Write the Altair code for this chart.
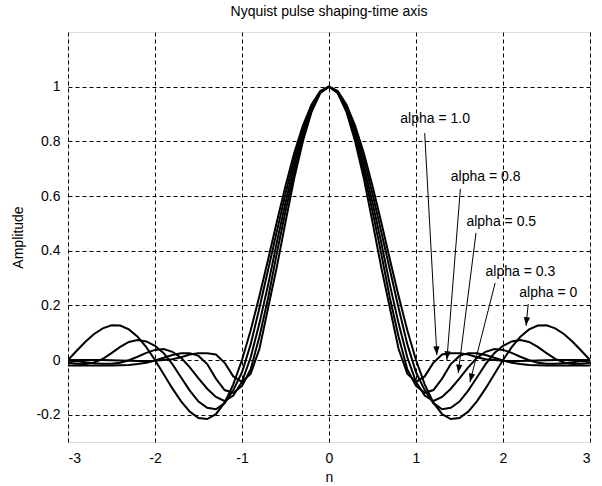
import math
import altair as alt
import pandas as pd

# ---- data ----
n_values = [-3.0, -2.9, -2.8, -2.7, -2.6, -2.5, -2.4, -2.3, -2.2, -2.1,
            -2.0, -1.9, -1.8, -1.7, -1.6, -1.5, -1.4, -1.3, -1.2, -1.1,
            -1.0, -0.9, -0.8, -0.7, -0.6, -0.5, -0.4, -0.3, -0.2, -0.1,
            0.0, 0.1, 0.2, 0.3, 0.4, 0.5, 0.6, 0.7, 0.8, 0.9,
            1.0, 1.1, 1.2, 1.3, 1.4, 1.5, 1.6, 1.7, 1.8, 1.9,
            2.0, 2.1, 2.2, 2.3, 2.4, 2.5, 2.6, 2.7, 2.8, 2.9, 3.0]

amp_alpha_0 = [0.0, 0.034, 0.067, 0.095, 0.116, 0.127, 0.126, 0.112, 0.085, 0.047,
               0.0, -0.052, -0.104, -0.151, -0.189, -0.212, -0.216, -0.198, -0.156, -0.089,
               0.0, 0.109, 0.234, 0.368, 0.505, 0.637, 0.757, 0.858, 0.935, 0.984,
               1.0,
               0.984, 0.935, 0.858, 0.757, 0.637, 0.505, 0.368, 0.234, 0.109,
               0.0, -0.089, -0.156, -0.198, -0.216, -0.212, -0.189, -0.151, -0.104, -0.052,
               0.0, 0.047, 0.085, 0.112, 0.126, 0.127, 0.116, 0.095, 0.067, 0.034, 0.0]

amp_alpha_03 = [-0.010, -0.014, -0.015, -0.009, 0.004, 0.025, 0.048, 0.066, 0.073, 0.068,
                0.052, 0.025, -0.015, -0.064, -0.112, -0.152, -0.175, -0.180, -0.158, -0.110,
                -0.045, 0.058, 0.190, 0.330, 0.470, 0.608, 0.735, 0.845, 0.929, 0.982,
                1.0,
                0.982, 0.929, 0.845, 0.735, 0.608, 0.470, 0.330, 0.190, 0.058,
                -0.045, -0.110, -0.158, -0.180, -0.175, -0.152, -0.112, -0.064, -0.015, 0.025,
                0.052, 0.068, 0.073, 0.066, 0.048, 0.025, 0.004, -0.009, -0.015, -0.014, -0.010]

amp_alpha_05 = [-0.003, -0.005, -0.008, -0.012, -0.014, -0.014, -0.010, -0.001, 0.012, 0.026,
                0.037, 0.040, 0.030, 0.008, -0.027, -0.067, -0.105, -0.135, -0.150, -0.130,
                -0.080, 0.010, 0.134, 0.275, 0.430, 0.576, 0.712, 0.831, 0.922, 0.980,
                1.0,
                0.980, 0.922, 0.831, 0.712, 0.576, 0.430, 0.275, 0.134, 0.010,
                -0.080, -0.130, -0.150, -0.135, -0.105, -0.067, -0.027, 0.008, 0.030, 0.040,
                0.037, 0.026, 0.012, -0.001, -0.010, -0.014, -0.014, -0.012, -0.008, -0.005, -0.003]

amp_alpha_08 = [-0.020, -0.020, -0.020, -0.020, -0.020, -0.020, -0.019, -0.018, -0.015, -0.010,
                -0.002, 0.008, 0.018, 0.025, 0.025, 0.015, -0.015, -0.068, -0.110, -0.120,
                -0.095, -0.034, 0.085, 0.227, 0.390, 0.544, 0.689, 0.816, 0.915, 0.978,
                1.0,
                0.978, 0.915, 0.816, 0.689, 0.544, 0.390, 0.227, 0.085, -0.034,
                -0.095, -0.120, -0.110, -0.068, -0.015, 0.015, 0.025, 0.025, 0.018, 0.008,
                -0.002, -0.010, -0.015, -0.018, -0.019, -0.020, -0.020, -0.020, -0.020, -0.020, -0.020]

amp_alpha_10 = [0.000, 0.000, 0.000, 0.000, 0.000, -0.001, -0.002, -0.003, -0.004, -0.004,
                -0.003, 0.000, 0.003, 0.010, 0.020, 0.025, 0.025, 0.020, -0.010, -0.060,
                -0.080, -0.050, 0.040, 0.190, 0.340, 0.505, 0.665, 0.800, 0.908, 0.977,
                1.0,
                0.977, 0.908, 0.800, 0.665, 0.505, 0.340, 0.190, 0.040, -0.050,
                -0.080, -0.060, -0.010, 0.020, 0.025, 0.025, 0.020, 0.010, 0.003, 0.000,
                -0.003, -0.004, -0.004, -0.003, -0.002, -0.001, 0.000, 0.000, 0.000, 0.000, 0.000]

series_names = ["alpha = 0", "alpha = 0.3", "alpha = 0.5", "alpha = 0.8", "alpha = 1.0"]
series_values = [amp_alpha_0, amp_alpha_03, amp_alpha_05, amp_alpha_08, amp_alpha_10]

# annotations (data coordinates)
label_text = ["alpha = 1.0", "alpha = 0.8", "alpha = 0.5", "alpha = 0.3", "alpha = 0"]
label_x = [1.22, 1.80, 1.98, 2.20, 2.52]
label_y = [0.88, 0.67, 0.505, 0.322, 0.245]
arrow_x_start = [1.10, 1.51, 1.69, 1.91, 2.29]
arrow_y_start = [0.83, 0.626, 0.465, 0.282, 0.205]
arrow_x_tip = [1.24, 1.355, 1.485, 1.62, 2.265]
arrow_y_tip = [0.018, 0.0, -0.048, -0.081, 0.125]

x_ticks = [-3, -2, -1, 0, 1, 2, 3]
y_ticks = [-0.2, 0, 0.2, 0.4, 0.6, 0.8, 1]

# ---- build tables ----
rows = []
for name, vals in zip(series_names, series_values):
    for xv, yv in zip(n_values, vals):
        rows.append({"n": xv, "amp": yv, "series": name})
curves = pd.DataFrame(rows)

W, H = 522, 410
XD, YD = [-3, 3], [-0.3, 1.2]
px_x = W / (XD[1] - XD[0])
px_y = H / (YD[1] - YD[0])

ann = pd.DataFrame({
    "label": label_text, "lx": label_x, "ly": label_y,
    "x0": arrow_x_start, "y0": arrow_y_start,
    "x1": arrow_x_tip, "y1": arrow_y_tip,
})
ann["ang"] = [
    (math.degrees(math.atan2(-(x1 - x0) * px_x, -(y1 - y0) * px_y)) + 360) % 360
    for x0, y0, x1, y1 in zip(ann.x0, ann.y0, ann.x1, ann.y1)
]

FONT = "Liberation Sans"
FS = 14

xscale = alt.Scale(domain=XD, nice=False, zero=False)
yscale = alt.Scale(domain=YD, nice=False, zero=False)

xaxis = alt.Axis(values=x_ticks, title="n", grid=True, gridColor="black", gridDash=[4, 3],
                 gridOpacity=1, gridWidth=1, ticks=False, domain=False,
                 labelFont=FONT, labelFontSize=FS, labelColor="black", labelPadding=9,
                 labelExpr="'' + datum.value",
                 titleFont=FONT, titleFontSize=FS, titleFontWeight="normal",
                 titleColor="black", titlePadding=5)
yaxis = alt.Axis(values=y_ticks, title="Amplitude", grid=True, gridColor="black",
                 gridDash=[4, 3], gridOpacity=1, gridWidth=1, ticks=False, domain=False,
                 labelFont=FONT, labelFontSize=FS, labelColor="black", labelPadding=8,
                 labelExpr="'' + datum.value",
                 titleFont=FONT, titleFontSize=FS, titleFontWeight="normal",
                 titleColor="black", titlePadding=10)

lines = alt.Chart(curves).mark_line(color="black", strokeWidth=2, clip=True).encode(
    x=alt.X("n:Q", scale=xscale, axis=xaxis),
    y=alt.Y("amp:Q", scale=yscale, axis=yaxis),
    detail="series:N",
    order="n:Q",
)

arrows = alt.Chart(ann).mark_rule(color="black", strokeWidth=1).encode(
    x=alt.X("x0:Q", scale=xscale), y=alt.Y("y0:Q", scale=yscale),
    x2="x1:Q", y2="y1:Q",
)

heads = alt.Chart(ann).mark_point(
    shape="M0,0 L-0.36,-1 L0.36,-1 Z", filled=True, color="black", opacity=1,
    size=300, strokeWidth=0,
).encode(
    x=alt.X("x1:Q", scale=xscale), y=alt.Y("y1:Q", scale=yscale),
    angle=alt.Angle("ang:Q", scale=None),
)

labels = alt.Chart(ann).mark_text(font=FONT, fontSize=FS, color="black",
                                  align="center", baseline="middle").encode(
    x=alt.X("lx:Q", scale=xscale), y=alt.Y("ly:Q", scale=yscale), text="label:N",
)

chart = alt.layer(lines, arrows, heads, labels).properties(
    width=W, height=H,
    title=alt.TitleParams("Nyquist pulse shaping-time axis", font=FONT, fontSize=FS,
                          fontWeight="normal", color="black", anchor="middle", offset=13),
    autosize=alt.AutoSizeParams(type="none"),
    padding={"left": 68, "top": 32, "right": 12, "bottom": 44},
).configure_view(stroke="black", strokeWidth=1).configure(background="white")

chart.save("out.html", embed_options={"renderer": "svg", "actions": False})
